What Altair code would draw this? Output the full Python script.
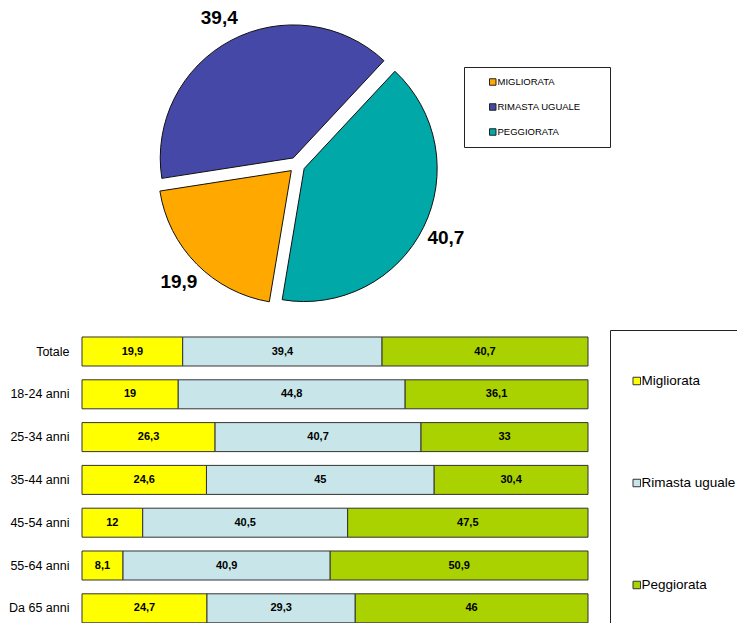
import math
import altair as alt
import pandas as pd

FONT = "Liberation Sans"

# ---- data ----
series = ["Migliorata", "Rimasta uguale", "Peggiorata"]
pie_values = [19.9, 39.4, 40.7]
pie_order = [1, 2, 0]  # clockwise order from the start angle
pie_colors = ["#FFA800", "#4648A8", "#00A8A8"]

categories = ["Totale", "18-24 anni", "25-34 anni", "35-44 anni",
              "45-54 anni", "55-64 anni", "Da 65 anni"]
migliorata = [19.9, 19, 26.3, 24.6, 12, 8.1, 24.7]
rimasta = [39.4, 44.8, 40.7, 45, 40.5, 40.9, 29.3]
peggiorata = [40.7, 36.1, 33, 30.4, 47.5, 50.9, 46]
bar_colors = ["#FFFF00", "#C8E6EA", "#AAD200"]


def fmt(v):
    return f"{v:g}".replace(".", ",")


pie_df = pd.DataFrame({
    "serie": series,
    "value": pie_values,
    "ord": pie_order,
    "label": [fmt(v) for v in pie_values],
})

rows = []
for i, c in enumerate(categories):
    for j, (s, vals) in enumerate(zip(series, [migliorata, rimasta, peggiorata])):
        rows.append({"cat": c, "serie": s, "value": vals[i], "ord": j, "label": fmt(vals[i])})
bar_df = pd.DataFrame(rows)

# ---- layout ----
W, H = 655, 615          # plot area (whole figure shares it)
LEFT = 74                # room for the category labels
CX, CY = 215, 157        # pie centre inside the plot area
START = math.radians(43)
EXPLODE = 8

# ---- pie ----
pie_base = alt.Chart(pie_df).transform_joinaggregate(
    total="sum(value)"
).transform_window(
    cum="sum(value)", sort=[alt.SortField("ord")], frame=[None, 0]
).transform_calculate(
    mid=f"{START} + 2*PI*(datum.cum - datum.value/2)/datum.total"
).transform_calculate(
    dx=f"{EXPLODE}*sin(datum.mid)", dy=f"{EXPLODE}*cos(datum.mid)"
).encode(
    x=alt.X("dx:Q", scale=alt.Scale(domain=[-CX, W - CX], nice=False, zero=False), axis=None),
    y=alt.Y("dy:Q", scale=alt.Scale(domain=[-(H - CY), CY], nice=False, zero=False), axis=None),
    theta=alt.Theta("value:Q", stack=True,
                    scale=alt.Scale(range=[START, START + 2 * math.pi])),
    order=alt.Order("ord:Q"),
)

PADTXT = " " * 7 + "\u200b"
arcs = pie_base.mark_arc(radius=133, stroke="#111111", strokeWidth=1).encode(
    color=alt.Color(
        "serie:N",
        scale=alt.Scale(domain=series, range=pie_colors),
        legend=alt.Legend(
            title=None, orient="none", legendX=382, legendY=59,
            padding=10, clipHeight=10, rowPadding=15, symbolOffset=14,
            symbolType="square", symbolSize=42, symbolStrokeColor="#222222",
            symbolStrokeWidth=1, labelFont=FONT, labelFontSize=9.5,
            labelColor="black", labelOffset=0,
            labelExpr=f"upper(datum.label) + '{PADTXT}'",
            strokeColor="#222222", fillColor="white",
        ),
    )
)
pie_labels = pie_base.mark_text(radius=158, font=FONT, fontSize=19,
                                fontWeight="bold", color="black").encode(text="label:N")

pie = alt.layer(arcs, pie_labels)

# ---- bars ----
bar_base = alt.Chart(bar_df).transform_stack(
    stack="value", groupby=["cat"], as_=["v0", "v1"], offset="normalize",
    sort=[alt.SortField("ord")]
).transform_calculate(mid="(datum.v0 + datum.v1) / 2")

xscale = alt.Scale(domain=[0, 1], range=[0, 506], nice=False)
yenc = alt.Y("cat:N", sort=categories,
             scale=alt.Scale(range=[322.1, 621.7], paddingInner=0.3224, paddingOuter=0.1612),
             axis=alt.Axis(title=None, domain=False, ticks=False, labelPadding=13,
                           labelFont=FONT, labelFontSize=12.5, labelColor="black"))

bars = bar_base.mark_bar(stroke="#333333", strokeWidth=1).encode(
    x=alt.X("v0:Q", scale=xscale, axis=None),
    x2="v1:Q",
    y=yenc,
    color=alt.Color(
        "serie:N",
        scale=alt.Scale(domain=series, range=bar_colors),
        legend=alt.Legend(
            title=None, orient="none", legendX=528, legendY=322,
            padding=20, clipHeight=62, rowPadding=40, symbolType="square",
            symbolSize=56, symbolStrokeColor="#333333", symbolStrokeWidth=1,
            labelFont=FONT, labelFontSize=13.5, labelColor="black",
            labelOffset={"expr": "-2"},
            strokeColor="#222222", fillColor="white",
        ),
    ),
)
bar_text = bar_base.mark_text(font=FONT, fontSize=11, fontWeight="bold", color="black").encode(
    x=alt.X("mid:Q", scale=xscale, axis=None), y=yenc, text="label:N"
)

barchart = alt.layer(bars, bar_text)

chart = alt.layer(pie, barchart).resolve_scale(
    x="independent", y="independent", color="independent", theta="independent"
).resolve_legend(color="independent").properties(
    width=W, height=H,
    autosize=alt.AutoSizeParams(type="none"),
    padding={"left": LEFT, "top": 0, "right": 0, "bottom": 0},
    background="white",
).configure_view(stroke=None)

chart.save("out.html", embed_options={"renderer": "svg", "actions": False})
